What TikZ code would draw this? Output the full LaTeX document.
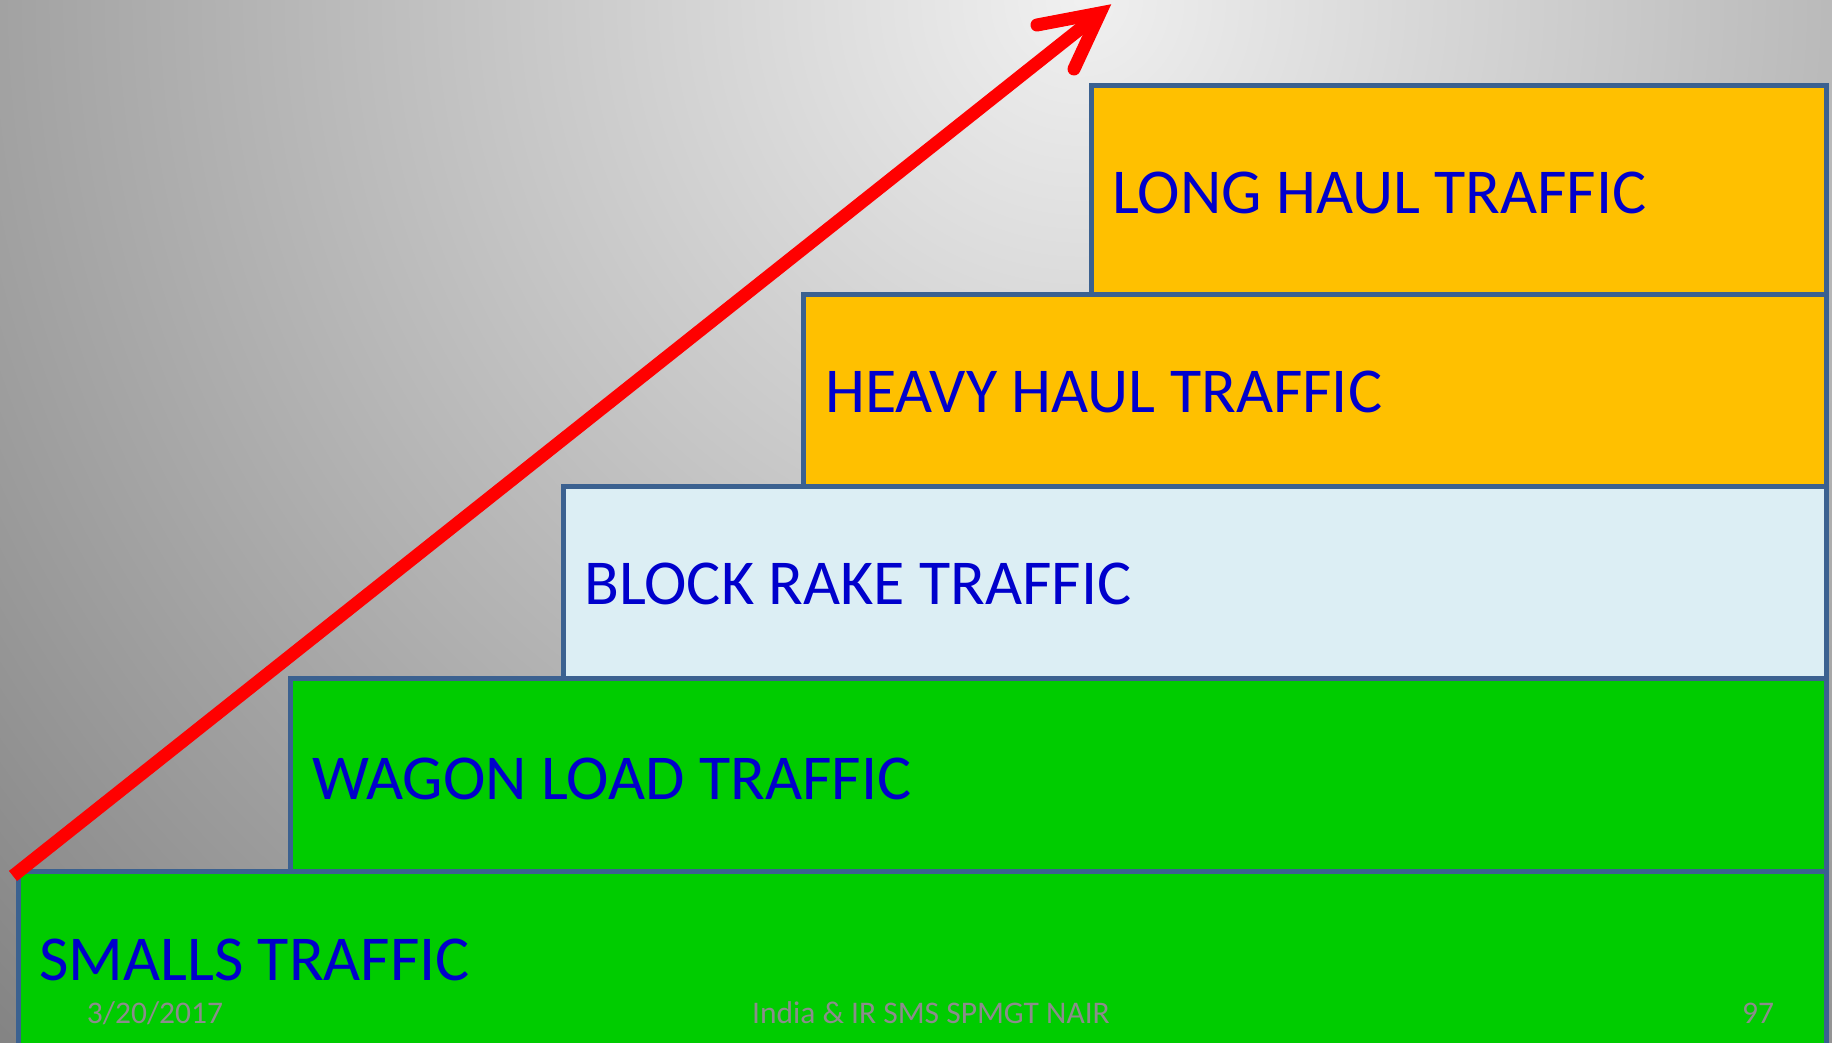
\documentclass[tikz,border=0pt]{standalone}
\usepackage{fontspec}
\setmainfont{Carlito}
\definecolor{bggray}{HTML}{808080}
\definecolor{bglight}{HTML}{F0F0F0}
\definecolor{boxgreen}{HTML}{00CC00}
\definecolor{boxyellow}{HTML}{FFC000}
\definecolor{boxblue}{HTML}{DCEEF4}
\definecolor{edge}{HTML}{3B6190}
\definecolor{txtblue}{HTML}{0000CC}
\definecolor{foot}{HTML}{8C8C8C}
\definecolor{arrowred}{HTML}{FF0000}
\begin{document}
\begin{tikzpicture}[x=1pt,y=-1pt,
  stair/.style={draw=edge,line width=5pt,line join=miter},
  label/.style={anchor=base west,inner sep=0pt,text=txtblue,font=\fontsize{64}{76}\selectfont},
  footer/.style={anchor=base,inner sep=0pt,text=foot,font=\fontsize{31.5}{37}\selectfont}]
\useasboundingbox (0,0) rectangle (1832,1043);
\begin{scope}
\clip (0,0) rectangle (1832,1043);
\shade[inner color=bglight,outer color=bggray] (1080,0) circle (1550);
% stairs
\draw[stair,fill=boxyellow] (1091,86) rectangle (1826,294);
\draw[stair,fill=boxyellow] (803,294) rectangle (1826,486);
\draw[stair,fill=boxblue] (563,486) rectangle (1826,678);
\draw[stair,fill=boxgreen] (290,678) rectangle (1826,871);
\draw[stair,fill=boxgreen] (18,871) rectangle (1826,1080);
\end{scope}
\node[label] (long) at (1112,214) {LONG HAUL TRAFFIC};
\node[label] (heavy) at (825,412) {HEAVY HAUL TRAFFIC};
\node[label] (block) at (584,604) {BLOCK RAKE TRAFFIC};
\node[label] (wagon) at (312,799) {WAGON LOAD TRAFFIC};
\node[label] (smalls) at (39,980) {SMALLS TRAFFIC};
\node[footer] (date) at (155,1023) {3/20/2017};
\node[footer] (title) at (931,1023) {India \& IR SMS SPMGT NAIR};
\node[footer] (page) at (1758,1023) {97};
% arrow
\coordinate (astart) at (13,876);
\coordinate (atip) at (1100,13);
\coordinate (barbA) at (1037,25);
\coordinate (barbB) at (1074,69);
\draw[arrowred,line width=13pt] (astart) -- (atip);
\draw[arrowred,line width=13pt,line cap=round,line join=miter] (barbA) -- (atip) -- (barbB);
\end{tikzpicture}
\end{document}
